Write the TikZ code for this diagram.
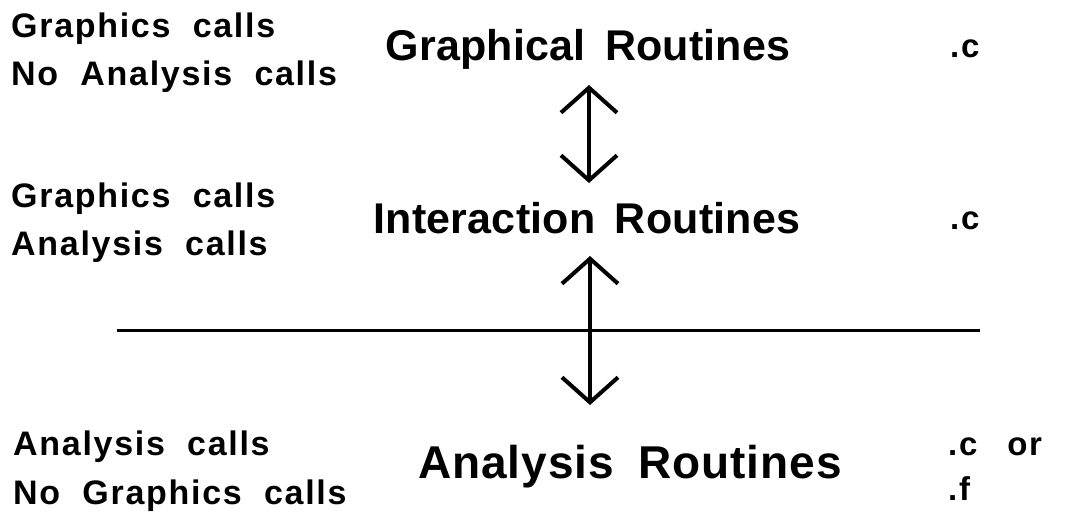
\documentclass[tikz,border=0pt]{standalone}
\usepackage{fontspec}
\setmainfont{Liberation Sans}
\newfontfamily\labfont{Liberation Sans Bold}[LetterSpace=5,WordSpace=2]
\newfontfamily\titfont{Liberation Sans Bold}[LetterSpace=0.5,WordSpace=1.6]
\newfontfamily\bigtitfont{Liberation Sans Bold}[LetterSpace=2,WordSpace=1.8]
\usetikzlibrary{arrows.meta}
\begin{document}
\begin{tikzpicture}[x=1pt,y=-1pt,
  lab/.style={inner sep=0pt,anchor=base west,font=\labfont\fontsize{34}{38}\selectfont},
  tit/.style={inner sep=0pt,anchor=base,font=\titfont\fontsize{43}{48}\selectfont},
  bigtit/.style={inner sep=0pt,anchor=base,font=\bigtitfont\fontsize{46}{50}\selectfont},
  ext/.style={inner sep=0pt,anchor=base west,font=\labfont\fontsize{33}{38}\selectfont},
  dbl/.style={line width=4pt,{Straight Barb[length=25pt,width=56pt,line width=4pt]}-{Straight Barb[length=25pt,width=56pt,line width=4pt]}},
  rule/.style={line width=3pt}]
\useasboundingbox (0,0) rectangle (1078,515);
% row 1
\node[lab] (l1a) at (11,37) {Graphics calls};
\node[lab] (l1b) at (11,85) {No Analysis calls};
\node[tit] (t1) at (588,60) {Graphical Routines};
\node[ext] (e1) at (950,57) {.c};
% row 2
\node[lab] (l2a) at (11,207) {Graphics calls};
\node[lab] (l2b) at (11,255) {Analysis calls};
\node[tit] (t2) at (587,233) {Interaction Routines};
\node[ext] (e2) at (950,229) {.c};
% row 3
\node[lab] (l3a) at (13,455) {Analysis calls};
\node[lab] (l3b) at (13,504) {No Graphics calls};
\node[bigtit] (t3) at (630,478) {Analysis Routines};
\node[ext] (e3a) at (948,455) {.c\hspace{30pt}or};
\node[ext] (e3b) at (948,500) {.f};
% arrows
\coordinate (a1t) at (589,85);
\coordinate (a1b) at (589,183);
\coordinate (a2t) at (590,256);
\coordinate (a2b) at (590,405);
\coordinate (r1) at (117,330);
\coordinate (r2) at (980,330);
\draw[rule] (r1) -- (r2);
\draw[dbl] (a1t) -- (a1b);
\draw[dbl] (a2t) -- (a2b);
\end{tikzpicture}
\end{document}
